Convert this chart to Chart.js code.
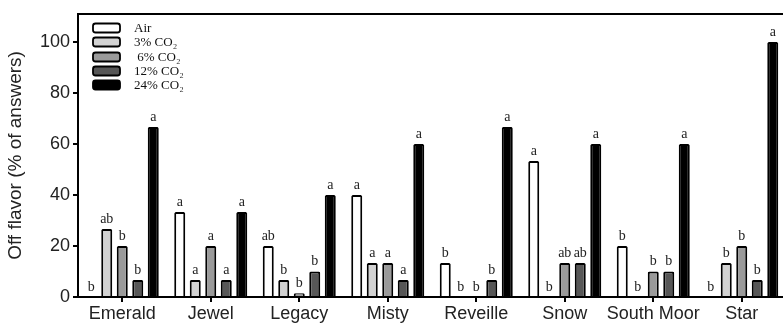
<!DOCTYPE html>
<html>
<head>
<meta charset="utf-8">
<script src="https://cdn.jsdelivr.net/npm/chart.js@4/dist/chart.umd.min.js"></script>
<style>
html,body{margin:0;padding:0;background:#fff;overflow:hidden;}
#wrap{width:790px;height:324px;position:relative;}
</style>
</head>
<body>
<div id="wrap"><canvas id="flavorChart"></canvas></div>
<script>
/* ── DATA ── */
var cultivars=['Emerald','Jewel','Legacy','Misty','Reveille','Snow','South Moor','Star'];
var seriesNames=['Air','3% CO\u2082',' 6% CO\u2082','12% CO\u2082','24% CO\u2082'];
var air  =[0,33.3,20,40,13.3,53.3,20,0];
var co2_3=[26.7,6.7,6.7,13.3,0,0,0,13.3];
var co2_6=[20,20,1.5,13.3,0,13.3,10,20];
var co2_12=[6.7,6.7,10,6.7,6.7,13.3,10,6.7];
var co2_24=[66.7,33.3,40,60,66.7,60,60,100];
var lettersAir  =['b','a','ab','a','b','a','b','b'];
var letters3    =['ab','a','b','a','b','b','b','b'];
var letters6    =['b','a','b','a','b','ab','b','b'];
var letters12   =['b','a','b','a','b','ab','b','b'];
var letters24   =['a','a','a','a','a','a','a','a'];
var yTicks=[0,20,40,60,80,100];

var fills=['#ffffff','#d2d2d2','#9a9a9a','#575757','#000000'];
var allData=[air,co2_3,co2_6,co2_12,co2_24];
var allLetters=[lettersAir,letters3,letters6,letters12,letters24];

/* ── PLUGINS ── */
var letterPlugin={
  id:'letters',
  afterDatasetsDraw:function(chart){
    var c=chart.ctx;
    c.save();
    c.font='14px "Liberation Serif","DejaVu Serif",serif';
    c.fillStyle='#222';c.textAlign='center';c.textBaseline='bottom';
    chart.data.datasets.forEach(function(ds,i){
      var meta=chart.getDatasetMeta(i);
      meta.data.forEach(function(el,j){
        c.fillText(allLetters[i][j],el.x,el.y-3);
      });
    });
    c.restore();
  }
};
var framePlugin={
  id:'frame',
  afterDraw:function(chart){
    var c=chart.ctx,a=chart.chartArea;
    c.save();
    c.strokeStyle='#000';c.lineWidth=2;
    c.beginPath();c.moveTo(a.left-1,a.top);c.lineTo(chart.width,a.top);c.stroke();
    // legend
    var ly=[28,42,57,71,85];
    c.font='13px "Liberation Serif","DejaVu Serif",serif';
    c.textBaseline='middle';c.textAlign='left';
    seriesNames.forEach(function(n,i){
      c.beginPath();
      c.roundRect(93,ly[i]-4.5,27,9,2.5);
      c.fillStyle=fills[i];c.fill();
      c.lineWidth=1.8;c.strokeStyle='#000';c.stroke();
      c.fillStyle='#111';
      c.fillText(n,134,ly[i]+1);
    });
    c.restore();
  }
};

/* ── BAR CHART ── */
var el=document.getElementById('flavorChart');
new Chart(el.getContext('2d'),{
  type:'bar',
  data:{
    labels:cultivars,
    datasets:allData.map(function(d,i){
      return {label:seriesNames[i],data:d,backgroundColor:fills[i],borderColor:'#000',
        borderWidth:function(ctx){return ctx.raw===0?0:2;},borderRadius:1.5,
        barPercentage:.71,categoryPercentage:.876};
    })
  },
  options:{
    responsive:true,maintainAspectRatio:false,animation:false,
    layout:{padding:{top:14,right:4,left:0,bottom:0}},
    plugins:{legend:{display:false},tooltip:{enabled:false}},
    scales:{
      x:{
        grid:{display:true,drawOnChartArea:false,offset:false,tickLength:5,color:'#000',lineWidth:2},
        border:{color:'#000',width:2},
        ticks:{font:{family:'"Liberation Sans",Arial,sans-serif',size:18},color:'#222',padding:1,maxRotation:0,autoSkip:false},
        afterFit:function(s){s.height=27;}
      },
      y:{
        min:0,max:111,
        afterBuildTicks:function(s){s.ticks=yTicks.map(function(v){return {value:v};});},
        grid:{display:true,drawOnChartArea:false,tickLength:5,color:'#000',lineWidth:2},
        border:{color:'#000',width:2},
        ticks:{font:{family:'"Liberation Sans",Arial,sans-serif',size:18},color:'#222',padding:3},
        title:{display:true,text:'Off flavor (% of answers)',font:{family:'"Liberation Sans",Arial,sans-serif',size:19},color:'#222',padding:{top:4,bottom:0}},
        afterFit:function(s){s.width=78;}
      }
    }
  },
  plugins:[letterPlugin,framePlugin]
});
</script>
</body>
</html>
